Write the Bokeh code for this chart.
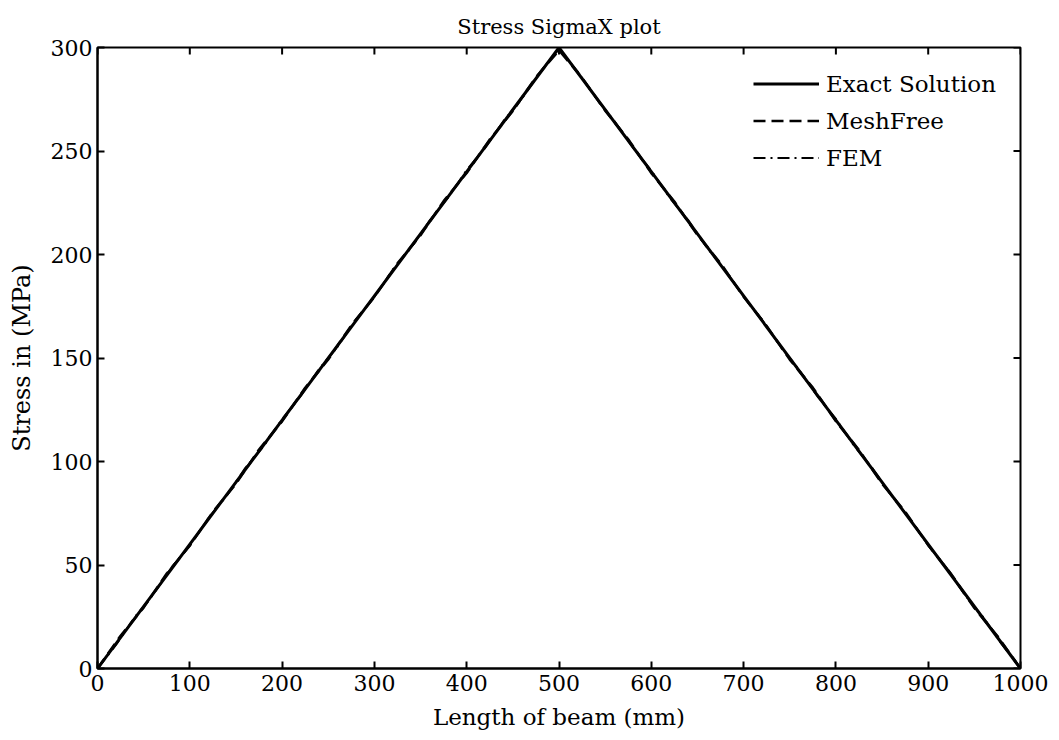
import math
from bokeh.plotting import figure
from bokeh.models import Range1d, Legend, LegendItem, FixedTicker
from bokeh.embed import file_html
from bokeh.resources import INLINE

# ---- data ----
exact_x = [0, 500, 1000]
exact_y = [0, 300, 0]

meshfree_x = [0, 25, 50, 75, 100, 125, 150, 175, 200, 225, 250, 275, 300, 325, 350, 375, 400,
              425, 450, 475, 500, 525, 550, 575, 600, 625, 650, 675, 700, 725, 750, 775, 800,
              825, 850, 875, 900, 925, 950, 975, 1000]
meshfree_y = [0, 15.8, 29.4, 45.9, 59.3, 75.7, 89.2, 105.8, 119.4, 135.6, 149.3, 165.8, 179.5,
              195.7, 209.3, 225.8, 239.4, 255.6, 269.3, 285.7, 298.6, 285.4, 269.5, 255.7, 239.3,
              225.6, 209.4, 195.8, 179.6, 165.5, 149.2, 135.7, 119.4, 105.6, 89.3, 75.8, 59.5,
              45.6, 29.2, 15.7, 0]

fem_x = [0, 20, 40, 60, 80, 100, 120, 140, 160, 180, 200, 220, 240, 260, 280, 300, 320, 340,
         360, 380, 400, 420, 440, 460, 480, 500, 520, 540, 560, 580, 600, 620, 640, 660, 680,
         700, 720, 740, 760, 780, 800, 820, 840, 860, 880, 900, 920, 940, 960, 980, 1000]
fem_y = [0, 11.4, 24.6, 35.5, 48.7, 59.4, 72.6, 83.5, 96.8, 107.4, 120.5, 131.6, 144.7, 155.4,
         168.6, 179.5, 192.7, 203.4, 216.5, 227.6, 240.8, 251.5, 264.6, 275.4, 288.3, 299.2,
         288.5, 275.6, 264.4, 251.7, 240.5, 227.4, 216.6, 203.5, 192.4, 179.7, 168.5, 155.6,
         144.3, 131.5, 120.6, 107.4, 96.5, 83.6, 72.4, 59.5, 48.6, 35.4, 24.5, 11.6, 0]

x_ticks = [0, 100, 200, 300, 400, 500, 600, 700, 800, 900, 1000]
y_ticks = [0, 50, 100, 150, 200, 250, 300]
x_min, x_max = 0, 1000
y_min, y_max = 0, 300

title_text = "Stress SigmaX plot"
labels = ["Exact Solution", "MeshFree", "FEM"]

FONT = "DejaVu Serif"

p = figure(width=1059, height=740, output_backend="svg", toolbar_location=None,
           x_range=Range1d(x_min, x_max), y_range=Range1d(y_min, y_max),
           min_border_left=97, min_border_right=39, min_border_top=47, min_border_bottom=72,
           title=title_text)

p.background_fill_color = "white"
p.border_fill_color = "white"
p.grid.visible = False
p.outline_line_color = "black"
p.outline_line_width = 2

p.title.align = "center"
p.title.vertical_align = "top"
p.title.text_font = FONT
p.title.text_font_size = "21px"
p.title.text_font_style = "normal"
p.title.text_color = "black"
p.title.offset = 0
p.title.standoff = 14

def style_axis(ax, ticks):
    ax.ticker = FixedTicker(ticks=ticks)
    ax.axis_line_color = "black"
    ax.axis_line_width = 2
    ax.major_tick_in = 7
    ax.major_tick_out = 0
    ax.major_tick_line_width = 2
    ax.minor_tick_in = 0
    ax.minor_tick_out = 0
    ax.major_label_text_font = FONT
    ax.major_label_text_font_size = "22px"
    ax.major_label_text_color = "black"
    ax.major_label_standoff = 6
    ax.axis_label_text_font = FONT
    ax.axis_label_text_font_style = "normal"
    ax.axis_label_text_color = "black"

style_axis(p.xaxis[0], x_ticks)
style_axis(p.yaxis[0], y_ticks)
p.xaxis[0].axis_label = "Length of beam (mm)"
p.xaxis[0].axis_label_text_font_size = "23px"
p.xaxis[0].axis_label_standoff = 10
p.yaxis[0].axis_label = "Stress in (MPa)"
p.yaxis[0].axis_label_text_font_size = "24px"
p.yaxis[0].axis_label_standoff = 12
p.yaxis[0].major_label_standoff = 5

# inward ticks on the top and right edges (matlab box style)
p.ray(x=x_ticks, y=[y_max] * len(x_ticks), length=7, length_units="screen",
      angle=-math.pi / 2, line_color="black", line_width=2)
p.ray(x=[x_max] * len(y_ticks), y=y_ticks, length=7, length_units="screen",
      angle=math.pi, line_color="black", line_width=2)

r1 = p.line(exact_x, exact_y, line_color="black", line_width=3)
r2 = p.line(meshfree_x, meshfree_y, line_color="black", line_width=2.5, line_dash="12 6")
r3 = p.line(fem_x, fem_y, line_color="black", line_width=2, line_dash="12 5 2 5")

legend = Legend(items=[LegendItem(label=labels[0], renderers=[r1]),
                       LegendItem(label=labels[1], renderers=[r2]),
                       LegendItem(label=labels[2], renderers=[r3])],
                location=(656, 492))
legend.border_line_color = None
legend.background_fill_alpha = 0
legend.padding = 0
legend.margin = 0
legend.spacing = 0
legend.label_height = 37
legend.glyph_height = 37
legend.glyph_width = 66
legend.label_standoff = 7
legend.label_text_font = FONT
legend.label_text_font_size = "23px"
legend.label_text_color = "black"
p.add_layout(legend, "center")

open("out.html", "w").write(file_html(p, INLINE))
